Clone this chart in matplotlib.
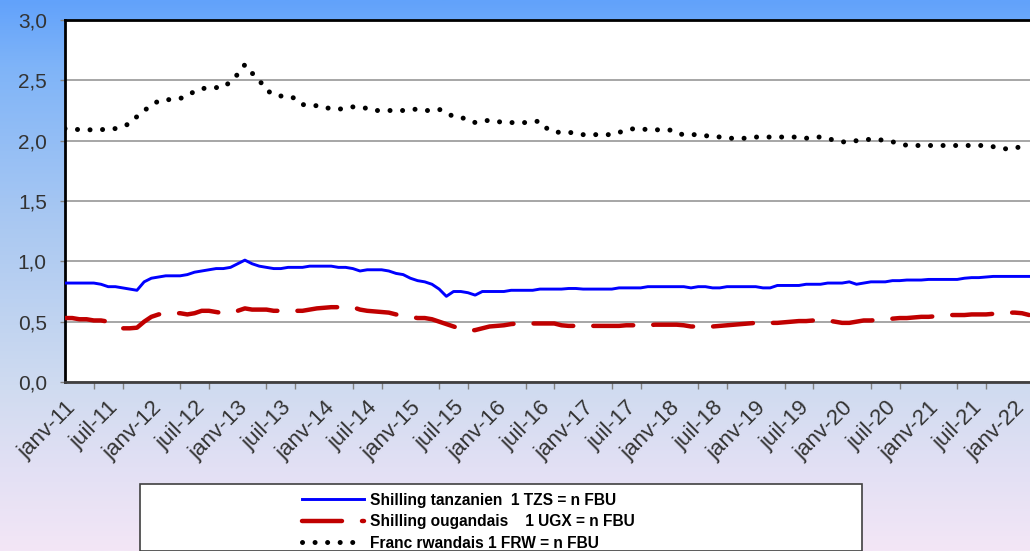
import numpy as np
import matplotlib
matplotlib.use("Agg")
import matplotlib.pyplot as plt
from matplotlib.colors import LinearSegmentedColormap
from matplotlib.patches import Rectangle
from matplotlib.transforms import ScaledTranslation

# monthly values, janv-11 .. mars-22
tzs = [0.82, 0.82, 0.82, 0.82, 0.82, 0.81, 0.79, 0.79, 0.78, 0.77,
       0.76, 0.83, 0.86, 0.87, 0.88, 0.88, 0.88, 0.89, 0.91, 0.92,
       0.93, 0.94, 0.94, 0.95, 0.98, 1.01, 0.98, 0.96, 0.95, 0.94,
       0.94, 0.95, 0.95, 0.95, 0.96, 0.96, 0.96, 0.96, 0.95, 0.95,
       0.94, 0.92, 0.93, 0.93, 0.93, 0.92, 0.90, 0.89, 0.86, 0.84,
       0.83, 0.81, 0.77, 0.71, 0.75, 0.75, 0.74, 0.72, 0.75, 0.75,
       0.75, 0.75, 0.76, 0.76, 0.76, 0.76, 0.77, 0.77, 0.77, 0.77,
       0.775, 0.775, 0.77, 0.77, 0.77, 0.77, 0.77, 0.78, 0.78, 0.78,
       0.78, 0.79, 0.79, 0.79, 0.79, 0.79, 0.79, 0.78, 0.79, 0.79,
       0.78, 0.78, 0.79, 0.79, 0.79, 0.79, 0.79, 0.78, 0.78, 0.80,
       0.80, 0.80, 0.80, 0.81, 0.81, 0.81, 0.82, 0.82, 0.82, 0.83,
       0.81, 0.82, 0.83, 0.83, 0.83, 0.84, 0.84, 0.845, 0.845, 0.845,
       0.85, 0.85, 0.85, 0.85, 0.85, 0.86, 0.865, 0.865, 0.87, 0.875,
       0.875, 0.875, 0.875, 0.875, 0.875]

ugx = [0.53, 0.53, 0.52, 0.52, 0.51, 0.51, 0.50, 0.47, 0.445, 0.445,
       0.45, 0.50, 0.54, 0.56, 0.57, 0.57, 0.57, 0.56, 0.57, 0.59,
       0.59, 0.58, 0.57, 0.575, 0.59, 0.61, 0.60, 0.60, 0.60, 0.59,
       0.59, 0.59, 0.59, 0.59, 0.60, 0.61, 0.615, 0.62, 0.62, 0.62,
       0.62, 0.60, 0.59, 0.585, 0.58, 0.575, 0.56, 0.55, 0.54, 0.53,
       0.53, 0.52, 0.50, 0.48, 0.46, 0.44, 0.425, 0.43, 0.445, 0.46,
       0.465, 0.47, 0.48, 0.485, 0.485, 0.485, 0.485, 0.485, 0.485, 0.47,
       0.465, 0.465, 0.465, 0.465, 0.465, 0.465, 0.465, 0.465, 0.47, 0.47,
       0.47, 0.47, 0.475, 0.475, 0.475, 0.475, 0.47, 0.46, 0.46, 0.46,
       0.46, 0.465, 0.47, 0.475, 0.48, 0.485, 0.49, 0.49, 0.49, 0.49,
       0.495, 0.50, 0.505, 0.505, 0.51, 0.51, 0.51, 0.50, 0.49, 0.49,
       0.50, 0.51, 0.51, 0.515, 0.52, 0.525, 0.53, 0.53, 0.535, 0.54,
       0.54, 0.545, 0.55, 0.555, 0.555, 0.555, 0.56, 0.56, 0.56, 0.565,
       0.57, 0.575, 0.575, 0.57, 0.555]

frw = [2.10, 2.10, 2.09, 2.09, 2.09, 2.09, 2.10, 2.10, 2.12, 2.14,
       2.20, 2.25, 2.29, 2.33, 2.34, 2.34, 2.35, 2.37, 2.41, 2.43,
       2.44, 2.44, 2.44, 2.49, 2.55, 2.63, 2.56, 2.50, 2.42, 2.38,
       2.37, 2.37, 2.35, 2.30, 2.29, 2.29, 2.27, 2.27, 2.26, 2.27,
       2.28, 2.27, 2.27, 2.25, 2.25, 2.25, 2.25, 2.25, 2.26, 2.26,
       2.25, 2.25, 2.26, 2.23, 2.20, 2.19, 2.18, 2.15, 2.16, 2.17,
       2.16, 2.15, 2.15, 2.15, 2.15, 2.16, 2.16, 2.10, 2.07, 2.07,
       2.07, 2.06, 2.05, 2.05, 2.05, 2.05, 2.05, 2.07, 2.08, 2.10,
       2.10, 2.09, 2.09, 2.09, 2.09, 2.06, 2.05, 2.05, 2.05, 2.04,
       2.04, 2.03, 2.02, 2.02, 2.02, 2.02, 2.03, 2.03, 2.03, 2.03,
       2.03, 2.03, 2.03, 2.02, 2.03, 2.03, 2.02, 2.00, 1.99, 1.99,
       2.00, 2.01, 2.01, 2.01, 2.00, 1.99, 1.98, 1.96, 1.96, 1.96,
       1.96, 1.96, 1.96, 1.96, 1.96, 1.96, 1.96, 1.96, 1.96, 1.95,
       1.94, 1.93, 1.94, 1.95, 1.96]

tick_labels = []
for yy in range(11, 23):
    tick_labels.append("janv-%d" % yy)
    tick_labels.append("juil-%d" % yy)
tick_labels = tick_labels[:23]

legend_labels = ["Shilling tanzanien  1 TZS = n FBU",
                 "Shilling ougandais    1 UGX = n FBU",
                 "Franc rwandais 1 FRW = n FBU"]

plt.rcParams['font.family'] = ['Liberation Sans', 'DejaVu Sans']

fig = plt.figure(figsize=(10.30, 5.51), dpi=100)

# background gradient
bg = fig.add_axes([0, 0, 1, 1], zorder=-10)
cmap = LinearSegmentedColormap.from_list(
    "bg", [(0.0, "#62a2fb"), (0.12, "#7fb4f8"), (0.4, "#a9c8f2"),
           (0.7, "#cfdbf0"), (0.85, "#e2e0f4"), (1.0, "#f3e6f6")])
bg.imshow(np.linspace(0, 1, 256).reshape(-1, 1), aspect="auto", cmap=cmap,
          extent=[0, 1, 0, 1], origin="upper")
bg.axis("off")

ax = fig.add_axes([65 / 1030, 1 - 382 / 551, 1 - 65 / 1030 + 0.002, (382 - 20) / 551])
ax.set_facecolor("white")

x = np.arange(len(tzs))
ax.plot(x, tzs, color="#0000ff", lw=2.1, label=legend_labels[0], zorder=3)
ax.plot(x, ugx, color="#c00000", lw=3.2, linestyle=(0, (9, 4.5)),
        dash_capstyle="round", label=legend_labels[1], zorder=3)
ax.plot(x, frw, color="black", lw=3.6, linestyle=(0, (0.01, 2.5)),
        dash_capstyle="round", label=legend_labels[2], zorder=3)

ax.set_ylim(0, 3.0)
ax.set_xlim(0, 134.4)
ax.set_yticks(np.arange(0, 3.01, 0.5))
ax.set_yticklabels([("%.1f" % v).replace(".", ",") for v in np.arange(0, 3.01, 0.5)])
ax.yaxis.grid(True, color="#a6a6a6", lw=1.4)
ax.set_axisbelow(True)

ax.set_xticks(np.arange(0, 133, 6))
ax.set_xticklabels(tick_labels, rotation=45, ha="right", va="top",
                   rotation_mode="anchor")
shift = ScaledTranslation(-4 / 100, 0, fig.dpi_scale_trans)
for lab in ax.get_xticklabels():
    lab.set_transform(lab.get_transform() + shift)
ax.set_xticks(np.arange(0, 135, 4), minor=True)
ax.tick_params(axis="x", which="major", length=0, pad=11, labelsize=16, labelcolor="#333333")
ax.tick_params(axis="x", which="minor", length=5, width=1, color="#808080", direction="out")
ax.tick_params(axis="y", length=3.6, width=1, color="#808080", labelsize=15,
               labelcolor="#333333", pad=9.5)

for s in ["left", "top"]:
    ax.spines[s].set_color("black")
    ax.spines[s].set_linewidth(2)
ax.spines["bottom"].set_color("#404040")
ax.spines["bottom"].set_linewidth(2)
ax.spines["right"].set_visible(False)

# legend box
fig.patches.append(Rectangle((140 / 1030, 0), (862 - 140) / 1030, (551 - 484) / 551,
                             transform=fig.transFigure, facecolor="white",
                             edgecolor="#404040", lw=1.2, zorder=5))
leg = fig.legend(loc="upper left", bbox_to_anchor=(294 / 1030, 1 - 485 / 551),
                 frameon=False, handlelength=4.0, handletextpad=0.4,
                 labelspacing=0.42, borderpad=0,
                 prop={"family": "Liberation Sans", "weight": "bold", "size": 11.2})
leg.set_zorder(6)

fig.savefig("out.png", dpi=100)
